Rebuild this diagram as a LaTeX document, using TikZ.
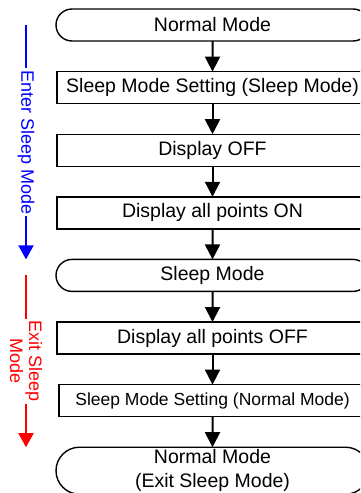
\documentclass[tikz,border=0pt]{standalone}
\usepackage{fontspec}
\setmainfont{Liberation Sans}
\usetikzlibrary{arrows.meta,positioning,shapes.misc}
\definecolor{ink}{RGB}{0,0,0}
\definecolor{enterc}{RGB}{0,0,255}
\definecolor{exitc}{RGB}{255,0,0}
\tikzset{
  box/.style={draw=ink,fill=white,line width=0.7pt,minimum width=155.5pt,minimum height=16pt,
    inner sep=2pt,outer sep=0pt,align=center,font=\fontsize{9.75}{12}\selectfont},
  term/.style={box,rounded rectangle,minimum width=160.5pt},
  flow/.style={-{Triangle[length=7.5pt,width=7.5pt]},line width=1pt,draw=ink},
  side/.style={-{Triangle[length=7pt,width=7.5pt]},line width=1pt,draw=#1},
  lbl/.style={fill=white,rotate=-90,inner sep=1pt,text=#1,align=center,
    font=\fontsize{9}{9.5}\selectfont},
}
\begin{document}
\begin{tikzpicture}[node distance=15.3pt]
  \useasboundingbox (0,0) rectangle (180pt,-246.5pt);
  \clip (0,0) rectangle (180pt,-246.5pt);
  \node[term] (nm) at (106.25pt,-12.5pt) {Normal Mode};
  \node[box,below=of nm] (sms) {Sleep Mode Setting (Sleep Mode)};
  \node[box,below=of sms] (doff) {Display OFF};
  \node[box,below=of doff] (don) {Display all points ON};
  \node[term,below=of don] (sl) {Sleep Mode};
  \node[box,below=of sl] (dpoff) {Display all points OFF};
  \node[box,below=of dpoff,minimum width=153.5pt,font=\fontsize{8.75}{11}\selectfont] (smn)
    {Sleep Mode Setting (Normal Mode)};
  \node[term,below=of smn,minimum height=23.5pt,inner ysep=0.5pt] (nmx) {Normal Mode\\(Exit Sleep Mode)};
  \foreach \a/\b in {nm/sms,sms/doff,doff/don,don/sl,sl/dpoff,dpoff/smn,smn/nmx}
    \draw[flow] (\a) -- (\b);
  % side markers
  \coordinate (enterA) at ([xshift=-15.5pt]sms.west |- nm);
  \coordinate (enterB) at (enterA |- sl.north);
  \coordinate (exitA) at (enterA |- sl);
  \coordinate (exitB) at (enterA |- nmx.north);
  \draw[side=enterc] (enterA) -- (enterB) node[midway,lbl=enterc] {Enter Sleep Mode};
  \draw[side=exitc] (exitA) -- (exitB) node[midway,lbl=exitc] {Exit Sleep\\Mode};
\end{tikzpicture}
\end{document}
